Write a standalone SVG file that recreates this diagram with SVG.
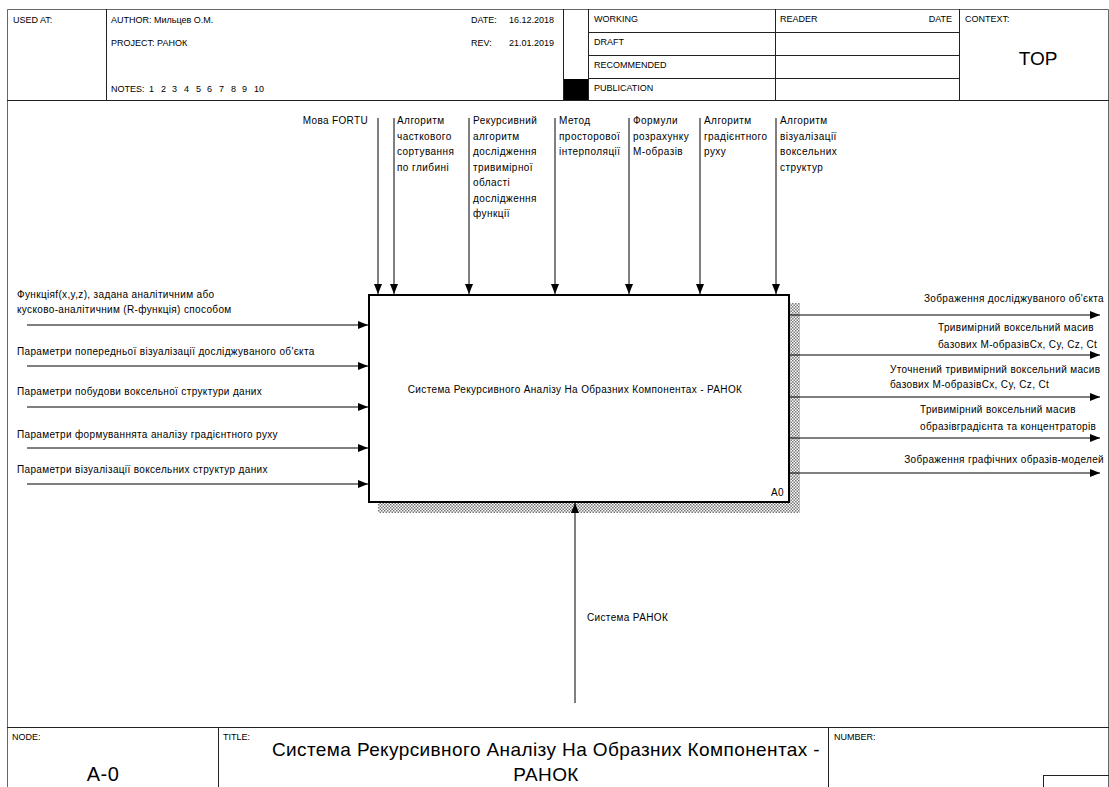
<svg xmlns="http://www.w3.org/2000/svg" width="1109" height="787" viewBox="0 0 1109 787">
<defs>
<style>
text{font-family:"Liberation Sans",Arial,sans-serif;fill:#000}
.h{font-size:9px}
.l{font-size:10px;letter-spacing:0.35px}
.c{letter-spacing:0.45px}
.big{font-size:19px;letter-spacing:0.4px}
.fr{stroke:#666;stroke-width:1;fill:none}
.dv{stroke:#222;stroke-width:1;fill:none}
.arr{stroke:#000;stroke-width:1;fill:none;marker-end:url(#ah)}
.box{fill:#fff;stroke:#000;stroke-width:2}
.end{text-anchor:end}
.mid{text-anchor:middle}
</style>
<marker id="ah" markerUnits="userSpaceOnUse" markerWidth="10" markerHeight="8" refX="10" refY="4" orient="auto"><path d="M0,0L10,4L0,8z" fill="#000"/></marker>
<pattern id="hatch" width="3" height="3" patternUnits="userSpaceOnUse"><rect width="3" height="3" fill="#fff"/><rect width="1.5" height="1.5" fill="#777"/><rect x="1.5" y="1.5" width="1.5" height="1.5" fill="#777"/></pattern>
</defs>
<rect width="1109" height="787" fill="#fff"/>
<g id="frame">
<path class="fr" d="M7.5,787V9.5H1108.5V787"/>
<path class="dv" d="M7,100.5H1109M106.5,9V100M563.5,9V100M588.5,9V100M775.5,9V100M959.5,9V100M588,32.5H959M588,55.5H959M588,78.5H959"/>
<rect x="564" y="79" width="24" height="21" fill="#000"/>
<text class="h" x="13" y="23">USED AT:</text>
<text class="h" x="111" y="23">AUTHOR:  Мильцев О.М.</text>
<text class="h" x="111" y="46">PROJECT:  РАНОК</text>
<text class="h" x="111" y="92">NOTES:<tspan x="149">1</tspan><tspan x="161">2</tspan><tspan x="172">3</tspan><tspan x="184">4</tspan><tspan x="196">5</tspan><tspan x="207">6</tspan><tspan x="219">7</tspan><tspan x="231">8</tspan><tspan x="242">9</tspan><tspan x="254">10</tspan></text>
<text class="h" x="471" y="23">DATE:</text>
<text class="h" x="509" y="23">16.12.2018</text>
<text class="h" x="471" y="46">REV:</text>
<text class="h" x="509" y="46">21.01.2019</text>
<text class="h" x="594" y="22">WORKING</text>
<text class="h" x="594" y="45">DRAFT</text>
<text class="h" x="594" y="68">RECOMMENDED</text>
<text class="h" x="594" y="91">PUBLICATION</text>
<text class="h" x="780" y="22">READER</text>
<text class="h end" x="952" y="22">DATE</text>
<text class="h" x="965" y="22">CONTEXT:</text>
<text class="big mid" x="1038" y="65" style="letter-spacing:0">TOP</text>
<path class="dv" d="M7,727.5H1109M218.5,727V787M828.5,727V787"/>
<rect class="dv" x="1043.5" y="775.5" width="70" height="20"/>
<text class="h" x="12" y="740">NODE:</text>
<text class="big mid" x="103" y="781" style="font-size:20px">A-0</text>
<text class="h" x="223" y="740">TITLE:</text>
<text class="big mid" x="546" y="756">Система Рекурсивного Аналізу На Образних Компонентах -</text>
<text class="big mid" x="546" y="781">РАНОК</text>
<text class="h" x="834" y="740">NUMBER:</text>
</g>
<g id="node-A0">
<rect x="790" y="303" width="10" height="210" fill="url(#hatch)"/>
<rect x="378" y="503" width="422" height="10" fill="url(#hatch)"/>
<rect class="box" x="369" y="295" width="420" height="207"/>
<text class="l mid" x="575" y="393">Система Рекурсивного Аналізу На Образних Компонентах - РАНОК</text>
<text class="l end" x="784" y="496">A0</text>
</g>
<g id="connectors">
<g id="c-fortu"><path class="arr" d="M378,118V294"/><text class="l end" x="368" y="124">Мова FORTU</text></g>
<g id="c-sort"><path class="arr" d="M394,118V294"/><text class="l c" x="397" y="124">Алгоритм<tspan x="397" dy="15.5">часткового</tspan><tspan x="397" dy="15.5">сортування</tspan><tspan x="397" dy="15.5">по глибині</tspan></text></g>
<g id="c-rec"><path class="arr" d="M469,118V294"/><text class="l c" x="473" y="124">Рекурсивний<tspan x="473" dy="15.5">алгоритм</tspan><tspan x="473" dy="15.5">дослідження</tspan><tspan x="473" dy="15.5">тривимірної</tspan><tspan x="473" dy="15.5">області</tspan><tspan x="473" dy="15.5">дослідження</tspan><tspan x="473" dy="15.5">функції</tspan></text></g>
<g id="c-interp"><path class="arr" d="M555,118V294"/><text class="l c" x="559" y="124">Метод<tspan x="559" dy="15.5">просторової</tspan><tspan x="559" dy="15.5">інтерполяції</tspan></text></g>
<g id="c-form"><path class="arr" d="M629,118V294"/><text class="l c" x="633" y="124">Формули<tspan x="633" dy="15.5">розрахунку</tspan><tspan x="633" dy="15.5">М-образів</tspan></text></g>
<g id="c-grad"><path class="arr" d="M700,118V294"/><text class="l c" x="704" y="124">Алгоритм<tspan x="704" dy="15.5">градієнтного</tspan><tspan x="704" dy="15.5">руху</tspan></text></g>
<g id="c-vis"><path class="arr" d="M776,118V294"/><text class="l c" x="780" y="124">Алгоритм<tspan x="780" dy="15.5">візуалізації</tspan><tspan x="780" dy="15.5">воксельних</tspan><tspan x="780" dy="15.5">структур</tspan></text></g>
<g id="i-func"><path class="arr" d="M27,325H368"/><text class="l" x="17" y="298">Функціяf(x,y,z), задана аналітичним або<tspan x="17" dy="15">кусково-аналітичним (R-функція) способом</tspan></text></g>
<g id="i-pre"><path class="arr" d="M27,366H368"/><text class="l" x="17" y="355">Параметри попередньої візуалізації досліджуваного об'єкта</text></g>
<g id="i-vox"><path class="arr" d="M27,407H368"/><text class="l" x="17" y="395">Параметри побудови воксельної структури даних</text></g>
<g id="i-grad"><path class="arr" d="M27,448H368"/><text class="l" x="17" y="438">Параметри формуваннята аналізу градієнтного руху</text></g>
<g id="i-vis"><path class="arr" d="M27,484H368"/><text class="l" x="17" y="473">Параметри візуалізації воксельних структур даних</text></g>
<g id="o-img"><path class="arr" d="M790,315H1100"/><text class="l end" x="1104" y="302">Зображення досліджуваного об'єкта</text></g>
<g id="o-mass"><path class="arr" d="M790,355H1100"/><text class="l" x="938" y="331">Тривимірний воксельний масив<tspan x="938" dy="17">базових М-образівCx, Cy, Cz, Ct</tspan></text></g>
<g id="o-refined"><path class="arr" d="M790,397H1100"/><text class="l" x="890" y="373">Уточнений тривимірний воксельний масив<tspan x="890" dy="15">базових М-образівCx, Cy, Cz, Ct</tspan></text></g>
<g id="o-gradmass"><path class="arr" d="M790,438H1100"/><text class="l" x="920" y="413">Тривимірний воксельний масив<tspan x="920" dy="17">образівградієнта та концентраторів</tspan></text></g>
<g id="o-models"><path class="arr" d="M790,473H1100"/><text class="l end" x="1104" y="463">Зображення графічних образів-моделей</text></g>
<g id="m-ranok"><path class="arr" d="M575,703V503"/><text class="l" x="587" y="621">Система РАНОК</text></g>
</g>
</svg>
